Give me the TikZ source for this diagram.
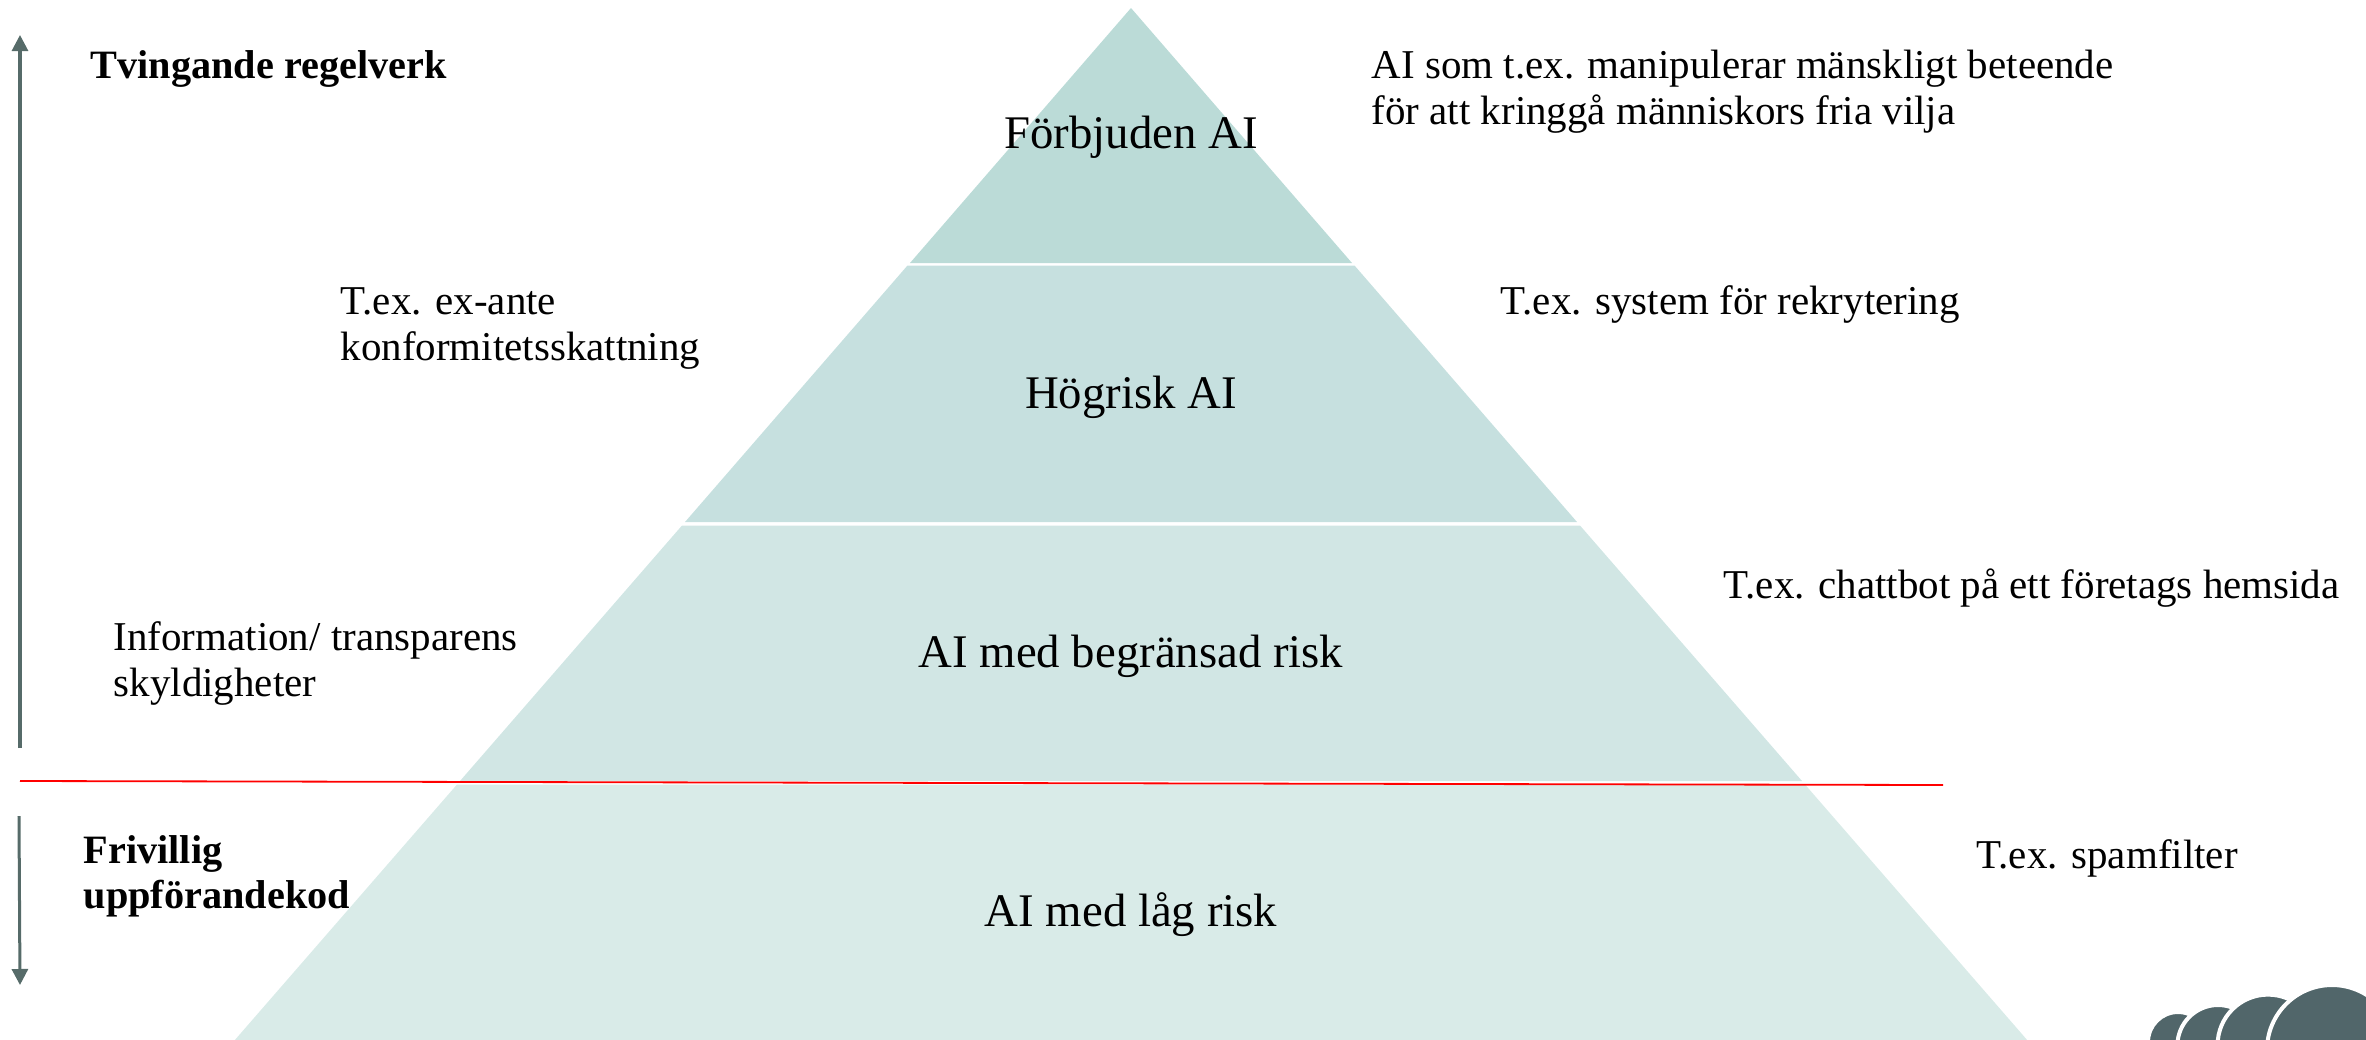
\documentclass[tikz,border=0pt]{standalone}
\usepackage{fontspec}
\setmainfont{Liberation Serif}
\usetikzlibrary{arrows.meta}
\definecolor{bandA}{HTML}{BBDBD7}
\definecolor{bandB}{HTML}{C6E0DF}
\definecolor{bandC}{HTML}{D1E6E4}
\definecolor{bandD}{HTML}{D9EBE8}
\definecolor{slate}{HTML}{51666A}
\definecolor{scalegreen}{HTML}{566B69}
\tikzset{
  bandlabel/.style={anchor=base,inner sep=0pt,font=\fontsize{13.3}{15}\selectfont},
  sidelabel/.style={anchor=base west,inner sep=0pt,font=\fontsize{11.65}{13.1}\selectfont},
  sidelabels/.style={anchor=north west,inner sep=0pt,align=left,font=\fontsize{11.65}{13.1}\selectfont},
  headlabel/.style={anchor=north west,inner sep=0pt,align=left,font=\fontsize{11.45}{12.8}\selectfont\bfseries},
  scalearrow/.style={-{Triangle[length=0.16cm,width=0.16cm]},line width=0.03cm,color=scalegreen},
  logodisc/.style={fill=slate,draw=white,line width=0.04cm},
}
\begin{document}
\begin{tikzpicture}[x=0.01cm,y=-0.01cm]
\useasboundingbox (0,0) rectangle (2366,1039);

\fill [bandA] (1131,8)--(1352,263)--(910,263)--cycle;
\fill [bandB] (907.5,265.5)--(1354.5,265.5)--(1577,522)--(685,522)--cycle;
\fill [bandC] (682,525.5)--(1580,525.5)--(1802,781)--(460,781)--cycle;
\fill [bandD] (457,784.5)--(1805,784.5)--(2028,1041)--(234,1041)--cycle;

\node [bandlabel] (forbidden) at (1131,148.5) {Förbjuden AI};
\node [bandlabel] (highrisk) at ([yshift=-2.60cm]forbidden.base) {Högrisk AI};
\node [bandlabel] (limited) at ([yshift=-2.59cm]highrisk.base) {AI med begränsad risk};
\node [bandlabel] (lowrisk) at ([yshift=-2.59cm]limited.base) {AI med låg risk};
%%%%%%%%%%%%%%%%%%%%%%%%%%%%
\coordinate (redleft) at (20,781);
\coordinate (redright) at (1943,785);
\draw [red,line width=0.018cm] (redleft)--(redright);

\coordinate (uptop) at (20,35);
\coordinate (upbottom) at (20,748);
\coordinate (downtop) at (19,816);
\coordinate (downbottom) at (20,985);
\draw [scalearrow] (upbottom)--(uptop);
\draw [scalearrow] (downtop)--(downbottom);
%%%%%%%%%%%%%%%%%%%%%%%%%%%%
\node [headlabel] (mandatory) at (90,50) {Tvingande regelverk};
\node [headlabel] (voluntary) at (83,834.5) {Frivillig\\uppförandekod};

\node [sidelabels] (prohibited) at (1371,49) {AI som t.ex. manipulerar mänskligt beteende\\för att kringgå människors fria vilja};
\node [sidelabels] (conformity) at (340,287) {T.ex. ex-ante\\konformitetsskattning};
\node [sidelabels] (transparency) at (113,621) {Information/ transparens\\skyldigheter};

\node [sidelabel] (recruit) at (1500,314) {T.ex. system för rekrytering};
\node [sidelabel] (chatbot) at (1723,598) {T.ex. chattbot på ett företags hemsida};
\node [sidelabel] (spam) at (1976,868) {T.ex. spamfilter};
%%%%%%%%%%%%%%%%%%%%%%%%%%%%
\begin{scope}
\clip (0,0) rectangle (2366,1039);
\path [logodisc] (2178,1042) circle (30);
\path [logodisc] (2218,1045.6) circle (40.6);
\path [logodisc] (2268,1045) circle (50.4);
\path [logodisc] (2332,1050) circle (65);
\end{scope}
\end{tikzpicture}
\end{document}
